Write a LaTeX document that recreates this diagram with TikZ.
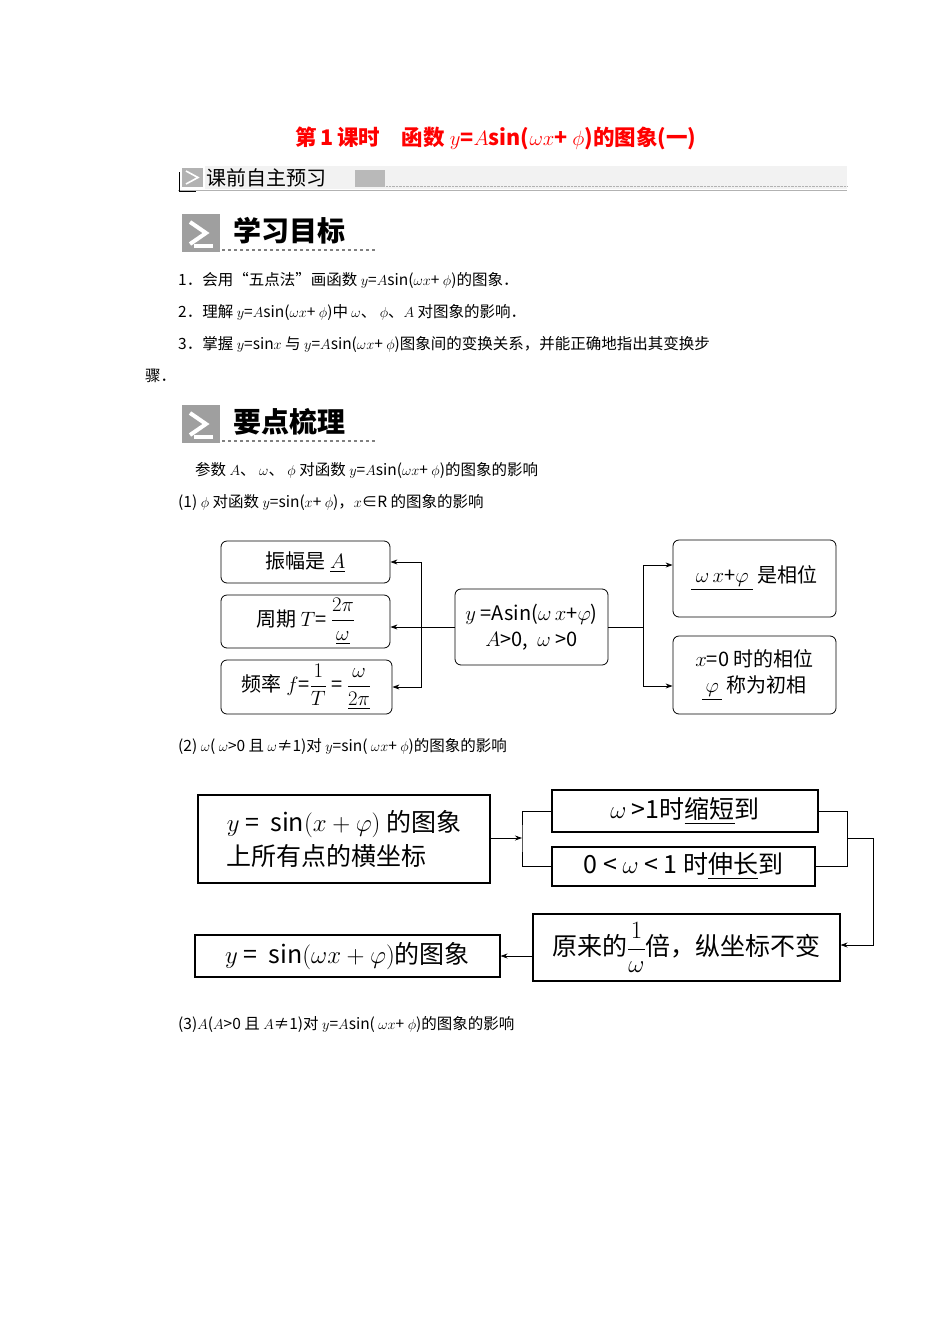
\documentclass[tikz,border=0pt]{standalone}
\usepackage{amsmath}
\usepackage{fontspec}
\setmainfont{Noto Sans CJK SC}
\usetikzlibrary{arrows.meta}
\begin{document}
\begin{tikzpicture}[x=1pt,y=-1pt,
  txt/.style={anchor=west,inner sep=0,font=\fontsize{15.5}{17}\selectfont},
  rb/.style={draw,rounded corners=6pt,line width=0.8pt,align=center,font=\fontsize{20}{26}\selectfont,inner sep=2pt},
  sb/.style={draw,line width=1.1pt,align=center,font=\fontsize{25}{34}\selectfont,inner sep=3pt},
  arr/.style={-{Stealth[length=7pt,width=5pt]},line width=0.8pt},
  ln/.style={line width=0.8pt},
  headbox/.style={fill=gray!75},
  headtxt/.style={anchor=west,inner sep=0,font=\fontsize{28}{30}\selectfont\bfseries}]
\useasboundingbox (0,0) rectangle (950,1344);
\fill[white] (0,0) rectangle (950,1344);
% title
\node[inner sep=0,text=red,font=\fontsize{21.5}{24}\selectfont\bfseries] (title) at (496,138) {第\,1\,课时\quad 函数 $y$=$A$sin($\omega x$+ $\phi$)的图象(一)};
% header bar
\fill[gray!10] (205,166) rectangle (847,189);
\draw[gray!60] (178,190) -- (847,190);
\draw[gray!60,densely dotted] (386,186) -- (847,186);
\fill[gray!60] (182,168) rectangle (203,187);
\draw[white,line width=1.6pt] (186,171) -- (198,177.5) -- (186,184);
\draw[black,line width=0.8pt] (179,172) -- (179,191) -- (196,191);
\node[anchor=west,inner sep=0,font=\fontsize{20}{22}\selectfont] (hd) at (206,178) {课前自主预习};
\fill[gray!55] (355,170) rectangle (385,187);
% heading 1
\fill[headbox] (182,214) rectangle (220,252);
\draw[white,line width=4pt] (190,222) -- (206,233) -- (190,244);
\draw[white,line width=4pt] (194,246) -- (213,246);
\node[headtxt] (h1) at (233,231) {学习目标};
\draw[gray,dashed,line width=1.2pt] (222,250) -- (377,250);
\node[txt] (l1) at (178,280) {1．会用“五点法”画函数 $y$=$A$sin($\omega x$+ $\phi$)的图象．};
\node[txt] (l2) at (178,312) {2．理解 $y$=$A$sin($\omega x$+ $\phi$)中 $\omega$、 $\phi$、$A$ 对图象的影响．};
\node[txt] (l3) at (178,344) {3．掌握 $y$=sin$x$ 与 $y$=$A$sin($\omega x$+ $\phi$)图象间的变换关系，并能正确地指出其变换步};
\node[txt] (l4) at (145,376) {骤．};
% heading 2
\fill[headbox] (182,405) rectangle (220,443);
\draw[white,line width=4pt] (190,413) -- (206,424) -- (190,435);
\draw[white,line width=4pt] (194,437) -- (213,437);
\node[headtxt] (h2) at (233,422) {要点梳理};
\draw[gray,dashed,line width=1.2pt] (222,441) -- (377,441);
\node[txt] (p0) at (195,470) {参数 $A$、 $\omega$、 $\phi$ 对函数 $y$=$A$sin($\omega x$+ $\phi$)的图象的影响};
\node[txt] (p1) at (178,502) {(1) $\phi$ 对函数 $y$=sin($x$+ $\phi$)，$x$∈R 的图象的影响};
% diagram 1
\node[rb,minimum width=169,minimum height=42] (a1) at (305.5,562) {振幅是 \underline{$A$}};
\node[rb,minimum width=169,minimum height=53] (a2) at (305.5,621.5) {周期 $T$= $\dfrac{2\pi}{\underline{\omega}}$};
\node[rb,minimum width=171,minimum height=54] (a3) at (306.5,687) {频率 $f$=$\dfrac{1}{T}$ = $\dfrac{\omega}{\underline{2\pi}}$};
\node[rb,minimum width=153,minimum height=76] (c) at (531.5,627) {$y$ =Asin($\omega\, x$+$\varphi$)\\$A$>0,\ \ $\omega$ >0};
\node[rb,minimum width=163,minimum height=77] (r1) at (754.5,578.5) {\underline{\ $\omega\,x$+$\varphi$\ } 是相位};
\node[rb,minimum width=163,minimum height=78] (r2) at (754.5,675) {$x$=0 时的相位\\\underline{\,$\varphi$\,} 称为初相};
\coordinate (jl) at (421,627);
\coordinate (jr) at (643,627);
\draw[arr] (c.west) -- (a2.east |- c.west);
\draw[arr] (jl) |- (a1.east);
\draw[arr] (jl) |- (a3.east);
\draw[ln] (c.east) -- (jr);
\draw[arr] (jr) |- (r1.west |- 0,565);
\draw[arr] (jr) |- (r2.west |- 0,686);
\node[txt] (p2) at (178,746) {(2) $\omega$( $\omega$>0 且 $\omega$≠1)对 $y$=sin( $\omega x$+ $\phi$)的图象的影响};
% diagram 2
\node[sb,minimum width=292,minimum height=88,align=left] (A) at (344,839) {$y$ =\ \ sin$(x+\varphi)$ 的图象\\上所有点的横坐标};
\node[sb,minimum width=266,minimum height=42] (B) at (685,811) {$\omega$ >1时\underline{缩短}到};
\node[sb,minimum width=263,minimum height=39] (C) at (683.5,866.5) {0 < $\omega$ < 1 时\underline{伸长}到};
\node[sb,minimum width=307,minimum height=67] (D) at (686.5,947.5) {原来的$\dfrac{1}{\omega}$倍，纵坐标不变};
\node[sb,minimum width=305,minimum height=42] (E) at (347.5,956) {$y$ =\ \ sin$(\omega x+\varphi)$的图象};
\coordinate (bl) at (522,838);
\coordinate (br) at (847,838);
\coordinate (bo) at (873,838);
\draw[arr] (A.east |- bl) -- (bl);
\draw[ln] (B.west) -| (bl) |- (C.west);
\draw[ln] (B.east) -| (br) |- (C.east);
\draw[arr] (br) -- (bo) |- (D.east |- 0,945);
\draw[arr] (D.west |- E.east) -- (E.east);
\node[txt] (p3) at (178,1024) {(3)$A$($A$>0 且 $A$≠1)对 $y$=$A$sin( $\omega x$+ $\phi$)的图象的影响};
\end{tikzpicture}
\end{document}
